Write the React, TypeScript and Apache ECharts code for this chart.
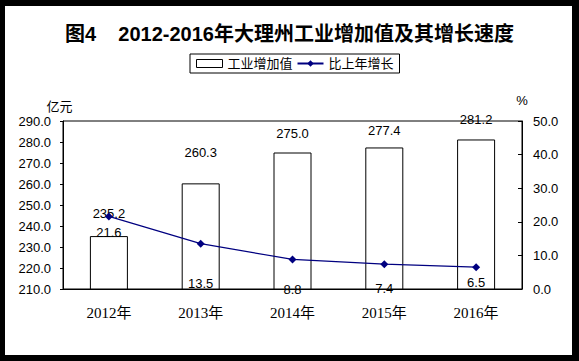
import React, { useEffect, useRef } from "react";
import * as echarts from "echarts";

const categories = ["2012年", "2013年", "2014年", "2015年", "2016年"];
const valueAdded = [235.2, 260.3, 275.0, 277.4, 281.2];
const growthRate = [21.6, 13.5, 8.8, 7.4, 6.5];
const leftTicks = { min: 210, max: 290, interval: 10 };
const rightTicks = { min: 0, max: 50, interval: 10 };

// label placement (style only)
const barLabelDistance = [16, 24, 13, 10, 13];
const lineLabelDistance = [6, 29, 20, 14, 5];

const SANS = "'Liberation Sans', Arial, 'Noto Sans CJK SC', sans-serif";
const SERIF = "'Liberation Serif', 'Noto Sans CJK SC', serif";

export default function App() {
  const ref = useRef<HTMLDivElement>(null);
  useEffect(() => {
    if (!ref.current) return;
    const chart = echarts.init(ref.current, null, { renderer: "svg" });
    chart.setOption({
      animation: false,
      backgroundColor: "#000",
      graphic: [
        {
          type: "rect",
          z: -100,
          silent: true,
          shape: { x: 5, y: 6, width: 567, height: 349 },
          style: { fill: "#fff" },
        },
      ],
      title: {
        text: "图4    2012-2016年大理州工业增加值及其增长速度",
        left: "center",
        top: 19,
        textStyle: { fontSize: 20, fontWeight: "bold", color: "#000", fontFamily: SANS },
      },
      legend: {
        left: 190,
        top: 54,
        padding: [3, 6],
        itemGap: 4,
        itemWidth: 26,
        itemHeight: 8,
        borderColor: "#000",
        borderWidth: 1,
        textStyle: { fontSize: 13, color: "#000", fontFamily: SANS },
        data: [
          {
            name: "工业增加值",
            icon: "rect",
            itemStyle: { color: "#fff", borderColor: "#000", borderWidth: 1 },
          },
          { name: "比上年增长" },
        ],
      },
      grid: {
        left: 63,
        top: 121,
        right: 57,
        bottom: 72,
        show: true,
        borderColor: "#000",
        borderWidth: 1,
        backgroundColor: "transparent",
      },
      xAxis: {
        type: "category",
        data: categories,
        axisLine: { lineStyle: { color: "#000", width: 1 } },
        axisTick: { inside: true, length: 4, lineStyle: { color: "#000" } },
        axisLabel: { color: "#000", fontSize: 15, margin: 16, fontFamily: SERIF },
        splitLine: { show: false },
      },
      yAxis: [
        {
          type: "value",
          ...leftTicks,
          name: "亿元",
          nameGap: 8,
          nameTextStyle: { color: "#000", fontSize: 13, fontFamily: SANS, padding: [0, 7, 0, 0] },
          axisLine: { show: true, lineStyle: { color: "#000" } },
          axisTick: { show: true, length: 3, lineStyle: { color: "#000" } },
          axisLabel: {
            color: "#000",
            fontSize: 13,
            margin: 12,
            fontFamily: SANS,
            formatter: (v: number) => v.toFixed(1),
          },
          splitLine: { show: false },
        },
        {
          type: "value",
          ...rightTicks,
          name: "%",
          nameGap: 14,
          nameTextStyle: { color: "#000", fontSize: 13, fontFamily: SANS },
          position: "right",
          axisLine: { show: true, lineStyle: { color: "#000" } },
          axisTick: { show: true, inside: true, length: 4, lineStyle: { color: "#000" } },
          axisLabel: {
            color: "#000",
            fontSize: 13,
            margin: 11,
            fontFamily: SANS,
            formatter: (v: number) => v.toFixed(1),
          },
          splitLine: { show: false },
        },
      ],
      series: [
        {
          name: "工业增加值",
          type: "bar",
          barWidth: 38,
          yAxisIndex: 0,
          itemStyle: { color: "#fff", borderColor: "#000", borderWidth: 1 },
          data: valueAdded.map((v, i) => ({
            value: v,
            label: {
              show: true,
              position: "top",
              distance: barLabelDistance[i],
              formatter: (p: any) => Number(p.value).toFixed(1),
              color: "#000",
              fontSize: 13,
              fontFamily: SANS,
            },
          })),
        },
        {
          name: "比上年增长",
          type: "line",
          yAxisIndex: 1,
          symbol: "diamond",
          symbolSize: 8,
          lineStyle: { color: "#000080", width: 1.2 },
          itemStyle: { color: "#000080" },
          data: growthRate.map((v, i) => ({
            value: v,
            label: {
              show: true,
              position: "bottom",
              distance: lineLabelDistance[i],
              formatter: (p: any) => Number(p.value).toFixed(1),
              color: "#000",
              fontSize: 13,
              fontFamily: SANS,
            },
          })),
        },
      ],
    });
    return () => chart.dispose();
  }, []);
  return (
    <div
      ref={ref}
      style={{ position: "fixed", left: 0, top: 0, width: 579, height: 361 }}
    />
  );
}
